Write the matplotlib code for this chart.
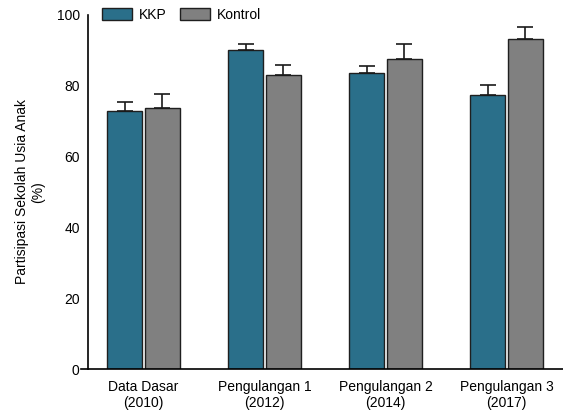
import matplotlib.pyplot as plt
import numpy as np

plt.rcParams['font.family'] = ['Liberation Sans', 'DejaVu Sans']

# Data
groups = ['Data Dasar\n(2010)', 'Pengulangan 1\n(2012)', 'Pengulangan 2\n(2014)', 'Pengulangan 3\n(2017)']
kkp = [73.0, 90.0, 83.7, 77.5]
kkp_err = [2.5, 1.7, 2.0, 2.8]
kontrol = [73.8, 82.9, 87.7, 93.1]
kontrol_err = [4.0, 3.1, 4.0, 3.4]

fig = plt.figure(figsize=(5.63, 4.2), dpi=100)
ax = fig.add_axes([0.1439, 0.1214, 0.8561, 0.843])

x = np.arange(len(groups))
w = 0.29
off = 0.155
ekw = dict(elinewidth=1.2, capsize=6, capthick=1.2, ecolor='#1a1a1a')
ax.bar(x - off, kkp, w, color='#2a6f8a', edgecolor='#1f1f1f', linewidth=1,
       yerr=[np.zeros(4), kkp_err], error_kw=ekw, label='KKP')
ax.bar(x + off, kontrol, w, color='#808080', edgecolor='#1f1f1f', linewidth=1,
       yerr=[np.zeros(4), kontrol_err], error_kw=ekw, label='Kontrol')

# bottom axis starts a little left of the y axis line
ax.set_xlim(-0.517, 3.467)
ax.spines['left'].set_position(('data', -0.459))
ax.set_ylim(0, 100)
ax.set_yticks([0, 20, 40, 60, 80, 100])
ax.set_xticks(x)
ax.set_xticklabels(groups, fontsize=10)
ax.tick_params(axis='x', length=0, pad=8)
ax.tick_params(axis='y', labelsize=10, length=0, pad=6)
ax.spines['top'].set_visible(False)
ax.spines['right'].set_visible(False)
ax.spines['left'].set_linewidth(1.2)
ax.spines['bottom'].set_linewidth(1.2)
ax.set_ylabel('Partisipasi Sekolah Usia Anak\n(%)', fontsize=10, labelpad=8)

fig.legend(loc='center left', bbox_to_anchor=(0.172, 0.965), ncol=2, frameon=False,
           fontsize=10, handlelength=2.15, handleheight=0.9, columnspacing=0.95,
           handletextpad=0.5, borderaxespad=0)

fig.savefig('out.png', dpi=100)
